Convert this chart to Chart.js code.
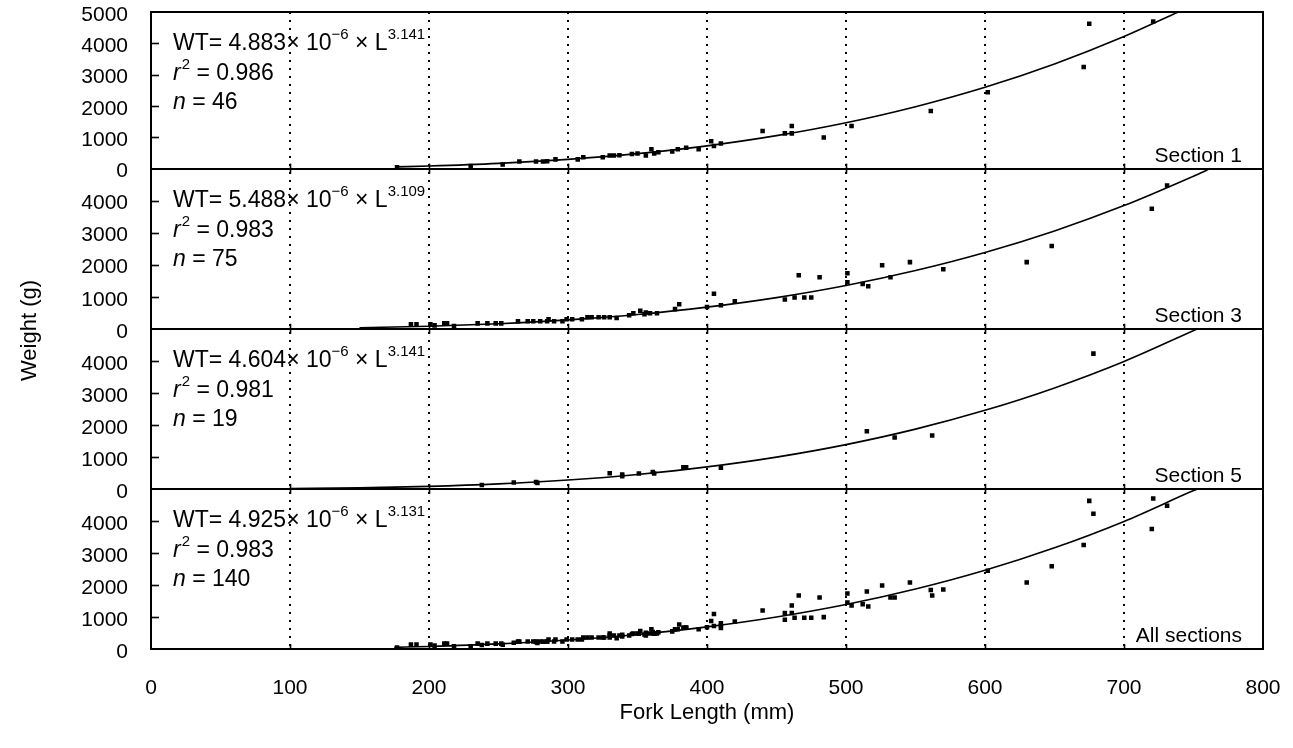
<!DOCTYPE html>
<html>
<head>
<meta charset="utf-8">
<script src="https://cdn.jsdelivr.net/npm/chart.js@4.4.1/dist/chart.umd.min.js"></script>
<style>
  html, body { margin: 0; padding: 0; background: #fff; }
  #wrap { width: 1293px; height: 748px; }
</style>
</head>
<body>
<div id="wrap"><canvas id="c"></canvas></div>
<script>
// ===== 데이터 (Fork length mm / Weight g) =====
const s1Length = [177, 230, 253, 265, 277, 282, 285, 291, 307, 311, 325, 330, 333, 337, 346, 350, 356, 360, 362, 365, 375, 379, 385, 394, 403, 405, 410, 440, 456, 461, 461, 484, 504, 561, 602, 671, 675, 721];
const s1Weight = [45, 85, 135, 230, 230, 230, 232, 295, 295, 360, 360, 420, 420, 425, 470, 485, 420, 615, 485, 525, 550, 615, 665, 615, 875, 720, 805, 1200, 1125, 1360, 1125, 995, 1360, 1840, 2440, 3245, 4625, 4700];

const s3Length = [187, 191, 201, 204, 211, 213, 218, 235, 242, 248, 252, 264, 271, 275, 280, 285, 286, 290, 296, 299, 303, 310, 314, 317, 322, 326, 330, 335, 344, 347, 352, 355, 356, 359, 364, 377, 380, 400, 405, 410, 420, 456, 463, 466, 470, 475, 481, 501, 501, 512, 516, 526, 532, 546, 570, 630, 648, 720, 731];
const s3Weight = [137, 137, 137, 105, 168, 168, 83, 168, 168, 168, 168, 232, 232, 232, 232, 232, 295, 232, 232, 295, 295, 295, 359, 359, 359, 359, 359, 338, 422, 486, 559, 454, 508, 486, 486, 613, 762, 680, 1090, 735, 861, 914, 977, 1670, 977, 977, 1607, 1733, 1450, 1397, 1324, 1985, 1607, 2080, 1859, 2080, 2584, 3750, 4475];

const s5Length = [238, 261, 277, 278, 330, 339, 339, 351, 361, 362, 383, 385, 410, 515, 535, 562, 678];
const s5Weight = [124, 197, 218, 187, 487, 446, 394, 477, 528, 477, 674, 674, 658, 1796, 1607, 1670, 4223];

// 전체 구간 = 세 구간 합침
const allLength = s1Length.concat(s3Length, s5Length);
const allWeight = s1Weight.concat(s3Weight, s5Weight);

// 회귀 곡선
const s1FitLength = [176, 200, 250, 300, 350, 400, 450, 500, 550, 600, 650, 700, 739];
const s1FitWeight = [55, 82, 166, 295, 478, 727, 1053, 1466, 1978, 2599, 3343, 4218, 5000];
const s3FitLength = [150, 200, 250, 300, 350, 400, 450, 500, 550, 600, 650, 700, 750, 762];
const s3FitWeight = [32, 78, 157, 276, 445, 675, 973, 1350, 1817, 2381, 3054, 3845, 4765, 5000];
const s5FitLength = [100, 150, 200, 250, 300, 350, 400, 450, 500, 550, 600, 650, 700, 753];
const s5FitWeight = [9, 32, 78, 157, 278, 451, 686, 992, 1382, 1865, 2452, 3152, 3977, 5000];
const allFitLength = [175, 200, 250, 300, 350, 400, 450, 500, 550, 600, 650, 700, 750, 753];
const allFitWeight = [52, 79, 159, 281, 455, 691, 999, 1389, 1873, 2459, 3160, 3984, 4946, 5000];

// 패널 텍스트
const panelIds   = ["y1", "y3", "y5", "yAll"];
const panelNames = ["Section 1", "Section 3", "Section 5", "All sections"];
const coefA      = ["4.883", "5.488", "4.604", "4.925"];
const coefB      = ["3.141", "3.109", "3.141", "3.131"];
const rSquared   = ["0.986", "0.983", "0.981", "0.983"];
const nFish      = ["46", "75", "19", "140"];

const xTicks = [0, 100, 200, 300, 400, 500, 600, 700, 800];
const yTicks = [0, 1000, 2000, 3000, 4000, 5000];

const FONT = "'Liberation Sans', Arial, sans-serif";

function pts(L, W) {
  return L.map((x, i) => ({ x, y: W[i] }));
}

function scatterSet(L, W, axis) {
  return {
    type: "scatter",
    data: pts(L, W),
    yAxisID: axis,
    pointStyle: "rect",
    pointRadius: 3.2,
    backgroundColor: "#000",
    borderWidth: 0
  };
}

function fitSet(L, W, axis) {
  return {
    type: "line",
    data: pts(L, W),
    yAxisID: axis,
    borderColor: "#000",
    borderWidth: 1.6,
    pointRadius: 0,
    cubicInterpolationMode: "monotone",
    fill: false
  };
}

// y축 하나 만들기
function yAxis(id, weight, stackWeight) {
  return {
    type: "linear",
    position: "left",
    stack: "panels",
    stackWeight,
    weight,
    min: 0,
    max: 5000,
    afterBuildTicks: s => { s.ticks = yTicks.map(v => ({ value: v })); },
    afterFit: s => {
      s.width = 151;
      s.paddingTop = 0;
      s.paddingBottom = 0;
    },
    border: { display: false },
    grid: {
      drawTicks: false,
      lineWidth: 2,
      color: c => (c.tick && c.tick.value === 0 ? "#000" : "rgba(0,0,0,0)")
    },
    ticks: {
      color: "#000",
      padding: 23,
      labelOffset: 3,
      autoSkip: false,
      font: { family: FONT, size: 21 },
      callback: v => (v === 5000 && id !== "y1" ? "" : String(v))
    }
  };
}

// ===== 직접 그리는 부분 (테두리, 안쪽 눈금, 텍스트) =====
const decorPlugin = {
  id: "decor",
  afterDatasetsDraw(chart) {
    const { ctx, chartArea } = chart;
    const xs = chart.scales.x;
    ctx.save();
    ctx.strokeStyle = "#000";
    ctx.fillStyle = "#000";

    panelIds.forEach((id, p) => {
      const ys = chart.scales[id];
      const zero = ys.getPixelForValue(0);

      // y 안쪽 눈금
      ctx.lineWidth = 1.6;
      [1000, 2000, 3000, 4000].forEach(v => {
        const py = Math.round(ys.getPixelForValue(v)) + 0.5;
        ctx.beginPath();
        ctx.moveTo(chartArea.left, py);
        ctx.lineTo(chartArea.left + 8, py);
        ctx.stroke();
      });

      // x 짧은 눈금 (패널 경계)
      [100, 200, 300, 400, 500, 600, 700].forEach(v => {
        const px = Math.round(xs.getPixelForValue(v)) + 0.5;
        ctx.beginPath();
        ctx.moveTo(px, zero - 5);
        ctx.lineTo(px, p < panelIds.length - 1 ? zero + 5 : zero);
        ctx.stroke();
      });

      // 식, r^2, n
      const left = chartArea.left + 22;
      const top = ys.top;
      let x = left;
      const big = "23px " + FONT;
      const small = "15px " + FONT;
      ctx.textAlign = "left";
      ctx.textBaseline = "alphabetic";

      let yb = top + 38;
      const put = (txt, font, dy) => {
        ctx.font = font;
        ctx.fillText(txt, x, yb + (dy || 0));
        x += ctx.measureText(txt).width;
      };
      put("WT", big);
      put("= " + coefA[p], big);
      put("\u00d7 10", big);
      put("\u22126", small, -11);
      put(" \u00d7 L", big);
      put(coefB[p], small, -11);

      x = left;
      yb = top + 68;
      put("r", "italic " + big);
      x += 1;
      put("2", small, -11);
      put(" = " + rSquared[p], big);

      x = left;
      yb = top + 97;
      put("n", "italic " + big);
      put(" = " + nFish[p], big);

      // 패널 이름
      ctx.font = "21px " + FONT;
      ctx.textAlign = "right";
      ctx.fillText(panelNames[p], chartArea.right - 21, zero - 7);
    });

    // 외곽선
    ctx.lineWidth = 2;
    ctx.strokeRect(chartArea.left, chartArea.top, chartArea.right - chartArea.left, chartArea.bottom - chartArea.top);

    // y축 제목
    ctx.save();
    ctx.translate(30, (chartArea.top + chartArea.bottom) / 2);
    ctx.rotate(-Math.PI / 2);
    ctx.font = "22px " + FONT;
    ctx.textAlign = "center";
    ctx.textBaseline = "middle";
    ctx.fillText("Weight (g)", 0, 0);
    ctx.restore();

    ctx.restore();
  }
};

const chart = new Chart(document.getElementById("c"), {
  type: "scatter",
  data: {
    datasets: [
      fitSet(s1FitLength, s1FitWeight, "y1"),
      scatterSet(s1Length, s1Weight, "y1"),
      fitSet(s3FitLength, s3FitWeight, "y3"),
      scatterSet(s3Length, s3Weight, "y3"),
      fitSet(s5FitLength, s5FitWeight, "y5"),
      scatterSet(s5Length, s5Weight, "y5"),
      fitSet(allFitLength, allFitWeight, "yAll"),
      scatterSet(allLength, allWeight, "yAll")
    ]
  },
  options: {
    responsive: true,
    maintainAspectRatio: false,
    animation: false,
    events: [],
    layout: { padding: { top: 12, right: 30, left: 0, bottom: 0 } },
    plugins: {
      legend: { display: false },
      tooltip: { enabled: false }
    },
    scales: {
      x: {
        type: "linear",
        min: 0,
        max: 800,
        afterBuildTicks: s => { s.ticks = xTicks.map(v => ({ value: v })); },
        afterFit: s => {
          s.height = 99;
          s.paddingLeft = 0;
          s.paddingRight = 0;
        },
        border: { display: false, dash: [2, 6] },
        grid: {
          drawTicks: false,
          lineWidth: 2,
          color: c => (c.tick && (c.tick.value === 0 || c.tick.value === 800) ? "rgba(0,0,0,0)" : "#000")
        },
        ticks: {
          color: "#000",
          padding: 27,
          maxRotation: 0,
          autoSkip: false,
          font: { family: FONT, size: 21 },
          callback: v => String(v)
        },
        title: {
          display: true,
          text: "Fork Length (mm)",
          color: "#000",
          font: { family: FONT, size: 22 },
          padding: { top: 0, bottom: 22 }
        }
      },
      y1: yAxis("y1", 4, 156.5),
      y3: yAxis("y3", 3, 160),
      y5: yAxis("y5", 2, 160),
      yAll: yAxis("yAll", 1, 160)
    }
  },
  plugins: [decorPlugin]
});
</script>
</body>
</html>
